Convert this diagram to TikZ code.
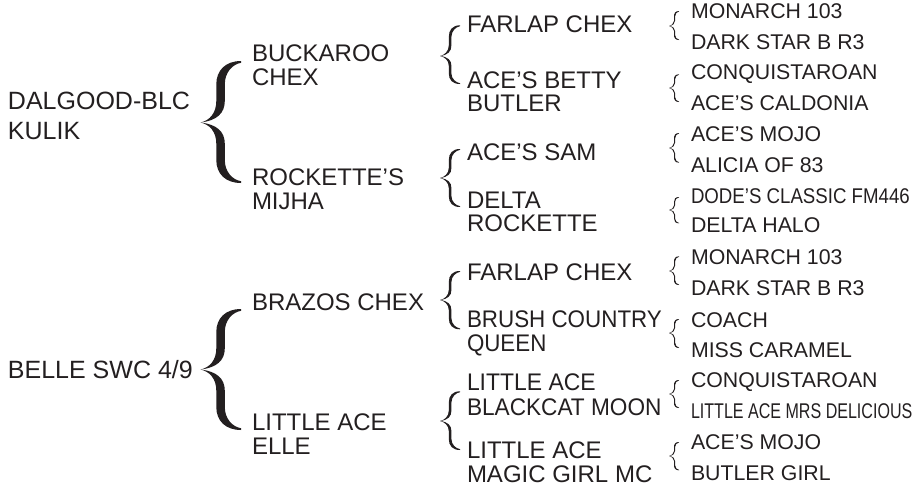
\documentclass[tikz,border=0pt]{standalone}
\usepackage{fontspec}
\setmainfont{Liberation Sans}
\definecolor{ink}{HTML}{231F20}
\newcommand{\halfbrace}[2]{%
  \fill[ink] (0,0) .. controls (.22,.03) and (#1,.15) .. (#1,.35) -- (#1,.62)
    .. controls (#1,.85) and (.62,1) .. (1,1) -- (1,.97)
    .. controls (.8,.95) and (#2,.82) .. (#2,.62) -- (#2,.35)
    .. controls (#2,.15) and (.4,.03) .. (0,0) -- cycle;}
\newcommand{\mybrace}[7]{% tipx tipy right top bottom stemL stemR
  \begin{scope}[shift={(#1,#2)}]
    \pgfmathsetmacro{\bw}{#3-#1}
    \pgfmathsetmacro{\bu}{#2-#4}
    \pgfmathsetmacro{\bd}{#5-#2}
    \begin{scope}[x=\bw pt,y=-\bu pt]\halfbrace{#6}{#7}\end{scope}
    \begin{scope}[x=\bw pt,y=\bd pt]\halfbrace{#6}{#7}\end{scope}
  \end{scope}}
\newcommand{\bigb}[3]{\mybrace{200.5}{#1}{241}{#2}{#3}{.39}{.6}}
\newcommand{\midb}[3]{\mybrace{440}{#1}{460}{#2}{#3}{.44}{.57}}
\newcommand{\smb}[3]{\mybrace{669}{#1}{679}{#2}{#3}{.5}{.6}}
\tikzset{
  labbase/.style={anchor=base west,inner sep=0pt,outer sep=0pt,text=ink},
  laba/.style={labbase,font=\fontsize{25}{25}\selectfont},
  lab/.style={labbase,font=\fontsize{24}{24}\selectfont},
  labs/.style={labbase,font=\fontsize{21.3}{24}\selectfont},
}
\begin{document}
\begin{tikzpicture}[x=1pt,y=-1pt]
\useasboundingbox (0,0) rectangle (913,488);
% column 1
\node[laba] (n01) at (8,109) {DALGOOD-BLC};
\node[laba] (n02) at (8,139.3) {KULIK};
\node[laba] (n03) at (8,378.3) {BELLE SWC 4/9};
% column 2
\node[lab] (n04) at (252,61) {BUCKAROO};
\node[lab] (n05) at (252,85) {CHEX};
\node[lab] (n06) at (252,185) {ROCKETTE’S};
\node[lab] (n07) at (252,209) {MIJHA};
\node[lab] (n08) at (252,310) {BRAZOS CHEX};
\node[lab] (n09) at (252,430) {LITTLE ACE};
\node[lab] (n10) at (252,454) {ELLE};
% column 3
\node[lab] (n11) at (467,32.7) {FARLAP CHEX};
\node[lab] (n12) at (467,88.3) {ACE’S BETTY};
\node[lab] (n13) at (467,111.7) {BUTLER};
\node[lab] (n14) at (467,160) {ACE’S SAM};
\node[lab] (n15) at (467,208.3) {DELTA};
\node[lab] (n16) at (467,231.7) {ROCKETTE};
\node[lab] (n17) at (467,280) {FARLAP CHEX};
\node[lab] (n18) at (467,327.7) {\scalebox{.933}[1]{BRUSH COUNTRY}};
\node[lab] (n19) at (467,351.7) {\scalebox{.93}[1]{QUEEN}};
\node[lab] (n20) at (467,390) {\scalebox{.955}[1]{LITTLE ACE}};
\node[lab] (n21) at (467,415.7) {\scalebox{.943}[1]{BLACKCAT MOON}};
\node[lab] (n22) at (467,458.3) {LITTLE ACE};
\node[lab] (n23) at (467,482.3) {MAGIC GIRL MC};
% column 4
\node[labs] (n24) at (691,18) {MONARCH 103};
\node[labs] (n25) at (691,49) {DARK STAR B R3};
\node[labs] (n26) at (691,79) {CONQUISTAROAN};
\node[labs] (n27) at (691,110) {ACE’S CALDONIA};
\node[labs] (n28) at (691,141) {ACE’S MOJO};
\node[labs] (n29) at (691,172) {ALICIA OF 83};
\node[labs] (n30) at (691,203) {\scalebox{.876}[1]{DODE’S CLASSIC FM446}};
\node[labs] (n31) at (691,232) {DELTA HALO};
\node[labs] (n32) at (691,264) {MONARCH 103};
\node[labs] (n33) at (691,295) {DARK STAR B R3};
\node[labs] (n34) at (691,327) {COACH};
\node[labs] (n35) at (691,357) {MISS CARAMEL};
\node[labs] (n36) at (691,387) {CONQUISTAROAN};
\node[labs] (n37) at (691,418) {\scalebox{.754}[1]{LITTLE ACE MRS DELICIOUS}};
\node[labs] (n38) at (691,449) {ACE’S MOJO};
\node[labs] (n39) at (691,480) {BUTLER GIRL};
% braces
\bigb{122.5}{62}{184}
\bigb{369.5}{309}{430}
\midb{56}{28}{86.7}
\midb{178}{149}{207}
\midb{300}{270.7}{329}
\midb{421}{392}{450.7}
\smb{26}{12}{41}
\smb{88}{74}{101.7}
\smb{148}{133.3}{163}
\smb{210}{196.7}{223}
\smb{271}{257}{285.7}
\smb{333}{318}{347}
\smb{394}{380}{408}
\smb{456}{441.7}{470}
\end{tikzpicture}
\end{document}
